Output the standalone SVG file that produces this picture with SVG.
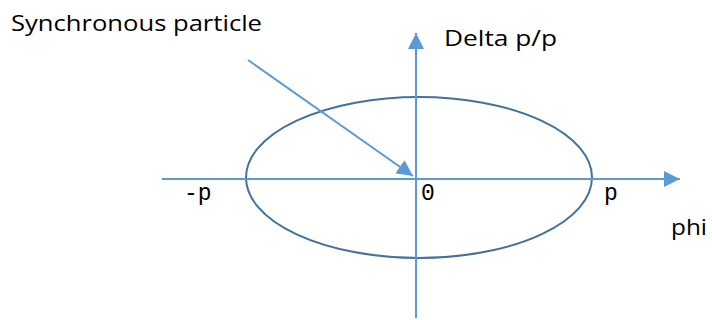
<svg xmlns="http://www.w3.org/2000/svg" width="712" height="320" viewBox="0 0 712 320">
<style>
.ax{stroke:#5B9BD5;stroke-width:2;fill:none}
.sans{font-family:"Open Sans","Noto Sans",sans-serif;fill:#000;font-size:21px}
.mono{font-family:"Liberation Mono","DejaVu Sans Mono",monospace;fill:#000;font-size:23px}
</style>
<defs>
<marker id="ah2" viewBox="0 0 10 10" refX="10" refY="5" markerWidth="8" markerHeight="8" orient="auto">
<path d="M0,0 L10,5 L0,10 z" fill="#5B9BD5"/>
</marker>
</defs>
<g id="ellipse"><ellipse cx="419" cy="177.5" rx="173" ry="80.5" fill="none" stroke="#41719C" stroke-width="2"/></g>
<g id="connectors">
<line class="ax" x1="162" y1="179" x2="680" y2="179" marker-end="url(#ah2)"/>
<line class="ax" x1="416" y1="318" x2="416" y2="33" marker-end="url(#ah2)"/>
<line class="ax" x1="248" y1="60" x2="413" y2="176" marker-end="url(#ah2)"/>
</g>
<g id="labels">
<text class="sans" x="11" y="31" textLength="251" lengthAdjust="spacingAndGlyphs">Synchronous particle</text>
<text class="sans" x="444" y="46" textLength="113" lengthAdjust="spacingAndGlyphs">Delta p/p</text>
<text class="sans" x="671" y="235" textLength="36" lengthAdjust="spacingAndGlyphs">phi</text>
<text class="mono" x="184" y="200">-p</text>
<text class="mono" x="421" y="200">0</text>
<text class="mono" x="604" y="200">p</text>
</g>
</svg>
